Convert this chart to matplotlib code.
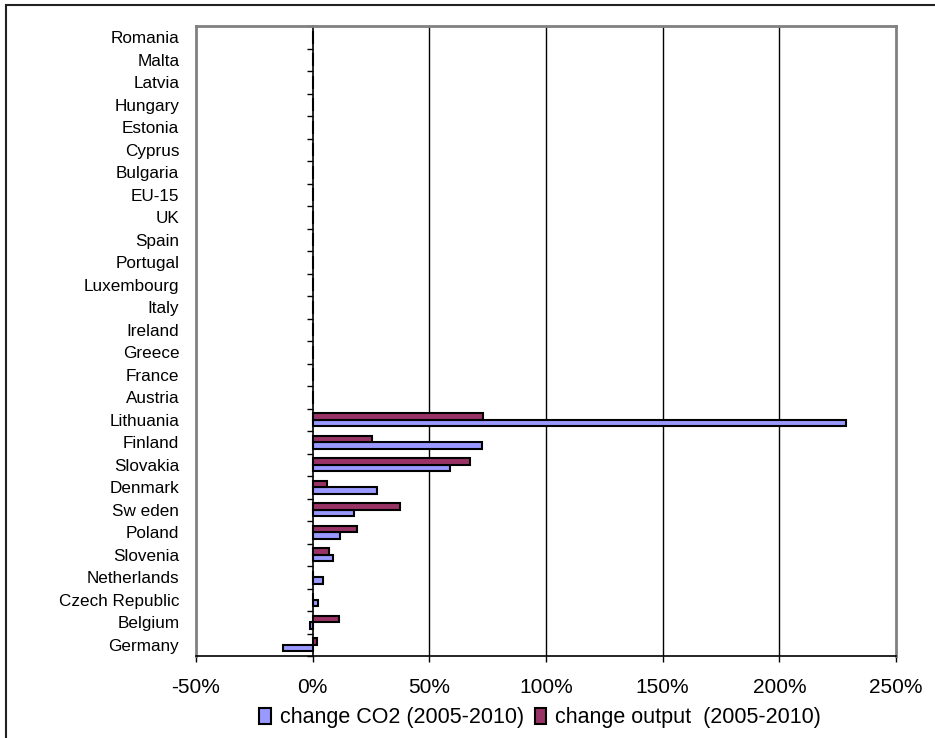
import numpy as np
import matplotlib
matplotlib.use("Agg")
import matplotlib.pyplot as plt
from matplotlib.patches import Rectangle
from matplotlib.ticker import FuncFormatter

plt.rcParams['font.family'] = ['Liberation Sans', 'DejaVu Sans']

# bottom to top, as the bars are stacked on the axis
countries = ['Germany', 'Belgium', 'Czech Republic', 'Netherlands', 'Slovenia',
             'Poland', 'Sw eden', 'Denmark', 'Slovakia', 'Finland', 'Lithuania',
             'Austria', 'France', 'Greece', 'Ireland', 'Italy', 'Luxembourg',
             'Portugal', 'Spain', 'UK', 'EU-15', 'Bulgaria', 'Cyprus', 'Estonia',
             'Hungary', 'Latvia', 'Malta', 'Romania']
co2_change = [-12.8, -1.1, 2.4, 4.3, 8.5, 11.9, 17.8, 27.4, 58.8, 72.4, 228.5,
              0, 0, 0, 0, 0, 0, 0, 0, 0, 0, 0, 0, 0, 0, 0, 0, 0]
output_change = [1.7, 11.1, 0, 0, 6.8, 18.8, 37.5, 6.0, 67.5, 25.6, 72.9,
                 0, 0, 0, 0, 0, 0, 0, 0, 0, 0, 0, 0, 0, 0, 0, 0, 0]
xticks = [-50, 0, 50, 100, 150, 200, 250]

W, H = 935, 738
fig = plt.figure(figsize=(W / 100, H / 100), dpi=100)
ax = fig.add_axes([196 / W, (H - 656) / H, 700 / W, 630 / H])

y = np.arange(len(countries))
bh = 0.29
ax.barh(y - bh / 2, co2_change, height=bh, color='#9999FF', edgecolor='black',
        linewidth=1.5, label='change CO2 (2005-2010)', zorder=3)
ax.barh(y + bh / 2, output_change, height=bh, color='#993366', edgecolor='black',
        linewidth=1.5, label='change output  (2005-2010)', zorder=3)

ax.set_xlim(-50, 250)
ax.set_ylim(-0.5, len(countries) - 0.5)
ax.set_xticks(xticks)
ax.xaxis.set_major_formatter(FuncFormatter(lambda v, p: f'{v:.0f}%'))
ax.set_yticks(y)
ax.set_yticklabels(countries)
ax.tick_params(axis='y', length=0, pad=12, labelsize=12.3)
ax.tick_params(axis='x', length=4.5, width=1, direction='out', pad=11, labelsize=15)

# vertical gridlines
for v in xticks[2:-1]:
    ax.axvline(v, color='black', linewidth=1, zorder=1)

for s in ['left', 'top', 'right']:
    ax.spines[s].set_color('#808080')
    ax.spines[s].set_linewidth(2)
ax.spines['bottom'].set_color('black')
ax.spines['bottom'].set_linewidth(1.2)

# category axis sits at 0%
sec = ax.secondary_yaxis(50 / 300)
sec.spines['left'].set_color('black')
sec.spines['left'].set_linewidth(1.2)
sec.yaxis.set_ticks_position('left')
sec.set_yticks(np.arange(len(countries) + 1) - 0.5)
sec.set_yticklabels([])
sec.tick_params(axis='y', length=4.5, width=1, direction='out')
sec.spines['right'].set_visible(False)

leg = fig.legend(loc='center', bbox_to_anchor=(540 / W, 1 - 718 / H), ncol=2,
                 frameon=False, fontsize=15.5, handlelength=0.55, handleheight=0.7,
                 handletextpad=0.4, columnspacing=0.5)
for h in leg.legend_handles:
    h.set_linewidth(1.5)

# chart border
fig.add_artist(Rectangle((5.5 / W, -0.1), 1.2, 1.1 - 5.5 / H, transform=fig.transFigure,
                         fill=False, edgecolor='#222222', linewidth=1.5))

fig.savefig('out.png', dpi=100)
